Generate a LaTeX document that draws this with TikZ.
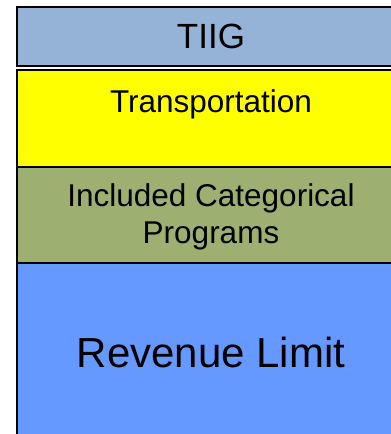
\documentclass[tikz,border=0pt]{standalone}
\usepackage{fontspec}
\setmainfont{Liberation Sans}
\definecolor{tiigblue}{RGB}{149,179,215}
\definecolor{transyellow}{RGB}{255,255,0}
\definecolor{catgreen}{RGB}{157,175,113}
\definecolor{revblue}{RGB}{102,153,255}
\newcommand{\bandfont}{\fontsize{31.5}{37}\selectfont}
\tikzset{
  band/.style={draw=black, line width=2pt},
  bandlabel/.style={anchor=base, align=center, inner sep=0pt, font=\bandfont}
}

\begin{document}
\begin{tikzpicture}[x=1pt, y=-1pt]
    \useasboundingbox (0,0) rectangle (391,434);
    \clip (0,0) rectangle (391,434);

    % the stacked bands
    \draw[band, fill=tiigblue] (17,7) rectangle (412,66);
    \draw[band, fill=transyellow] (17,70) rectangle (412,167);
    \draw[band, fill=catgreen] (17,167) rectangle (412,263);
    \draw[band, fill=revblue] (17,263) rectangle (412,445);

    % labels
    \node[bandlabel, font=\fontsize{35}{37}\selectfont] (tiig) at (211,48) {TIIG};
    \node[bandlabel] (trans) at (211,112) {Transportation};
    \node[bandlabel] (incl) at (211,243) {Included Categorical\\Programs};
    \node[bandlabel, font=\fontsize{42}{48}\selectfont] (rev) at (211,367) {Revenue Limit};
\end{tikzpicture}
\end{document}
